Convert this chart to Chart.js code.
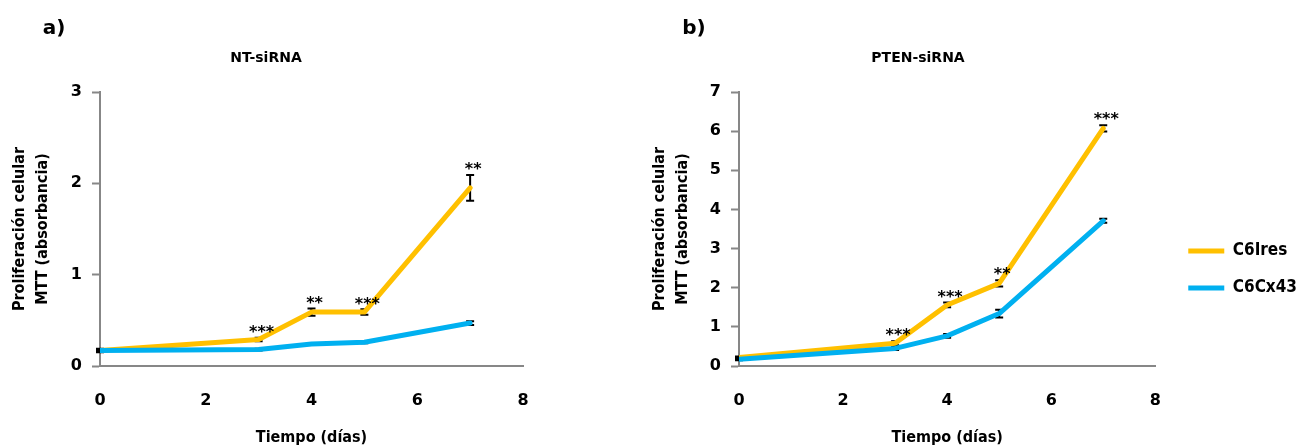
<!DOCTYPE html>
<html>
<head>
<meta charset="utf-8">
<script src="https://cdn.jsdelivr.net/npm/chart.js@4"></script>
<style>
  body { margin: 0; background: #fff; }
  .panel { position: absolute; top: 0; height: 447px; }
  #panelA { left: 0; width: 600px; }
  #panelB { left: 640px; width: 658px; }
</style>
</head>
<body>
<div class="panel" id="panelA"><canvas id="chartA"></canvas></div>
<div class="panel" id="panelB"><canvas id="chartB"></canvas></div>
<script>
// datos
const days = [0, 3, 4, 5, 7];
const seriesNames = ['C6Ires', 'C6Cx43'];

// a) NT-siRNA
const ntIres = [0.17, 0.29, 0.59, 0.59, 1.95];
const ntIresErr = [0.01, 0.02, 0.04, 0.03, 0.14];
const ntCx43 = [0.17, 0.18, 0.24, 0.26, 0.47];
const ntCx43Err = [0.02, 0.01, 0.01, 0.01, 0.02];
const ntSig = ['', '***', '**', '***', '**'];

// b) PTEN-siRNA
const ptIres = [0.22, 0.58, 1.56, 2.11, 6.07];
const ptIresErr = [0.02, 0.05, 0.06, 0.08, 0.08];
const ptCx43 = [0.17, 0.45, 0.77, 1.34, 3.71];
const ptCx43Err = [0.02, 0.04, 0.05, 0.10, 0.05];
const ptSig = ['', '***', '***', '**', '***'];

const xTicks = [0, 2, 4, 6, 8];
const yTicksA = [0, 1, 2, 3];
const yTicksB = [0, 1, 2, 3, 4, 5, 6, 7];

const orange = '#FFC000';
const blue = '#00B0F0';
const axisGray = '#878787';
const tickFont = { family: 'DejaVu Sans', size: 16, weight: 'bold' };
const titleFamily = '"DejaVu Sans Condensed", "DejaVu Sans"';

// barras de error y asteriscos
const errorBars = {
  id: 'errorBars',
  beforeDatasetsDraw(chart, args, opts) {
    const { ctx, scales: { x, y } } = chart;
    ctx.save();
    ctx.strokeStyle = '#000';
    ctx.lineWidth = 2;
    opts.errors.forEach((errs, d) => {
      chart.data.datasets[d].data.forEach((p, i) => {
        const px = x.getPixelForValue(p.x);
        const top = y.getPixelForValue(p.y + errs[i]);
        const bot = y.getPixelForValue(p.y - errs[i]);
        ctx.beginPath();
        ctx.moveTo(px, top); ctx.lineTo(px, bot);
        ctx.moveTo(px - 4, top); ctx.lineTo(px + 4, top);
        ctx.moveTo(px - 4, bot); ctx.lineTo(px + 4, bot);
        ctx.stroke();
      });
    });
    ctx.restore();
  },
  afterDatasetsDraw(chart, args, opts) {
    const { ctx, scales: { x, y } } = chart;
    const base = chart.data.datasets[0].data;
    ctx.save();
    ctx.fillStyle = '#000';
    ctx.font = 'bold 16px "DejaVu Sans"';
    ctx.textAlign = 'center';
    ctx.textBaseline = 'middle';
    opts.stars.forEach((s, i) => {
      if (!s) return;
      const px = x.getPixelForValue(base[i].x);
      const top = y.getPixelForValue(base[i].y + opts.errors[0][i]);
      ctx.fillText(s, px + 3, top - 5);
    });
    ctx.restore();
  }
};

// letra del panel y título
const panelText = {
  id: 'panelText',
  afterDraw(chart, args, opts) {
    const ctx = chart.ctx;
    ctx.save();
    ctx.fillStyle = '#000';
    ctx.textAlign = 'center';
    ctx.textBaseline = 'middle';
    ctx.font = 'bold 20px "DejaVu Sans"';
    ctx.fillText(opts.letter, 54, 29);
    ctx.font = 'bold 14px "DejaVu Sans"';
    ctx.fillText(opts.title, opts.titleX, 58);
    ctx.restore();
  }
};

function series(label, vals, color, order) {
  return {
    label: label,
    data: days.map((d, i) => ({ x: d, y: vals[i] })),
    borderColor: color,
    backgroundColor: color,
    borderWidth: 5,
    borderCapStyle: 'round',
    borderJoinStyle: 'round',
    pointRadius: 0,
    tension: 0,
    order: order
  };
}

function scalesFor(yTicks, yMax, yWidth) {
  return {
    x: {
      type: 'linear', min: 0, max: 8,
      afterBuildTicks: s => { s.ticks = xTicks.map(v => ({ value: v })); },
      afterFit: s => { s.height = 81; },
      grid: { display: false, drawTicks: false },
      border: { display: true, color: axisGray, width: 2 },
      ticks: { font: tickFont, color: '#000', padding: 25 },
      title: {
        display: true, text: 'Tiempo (días)', color: '#000',
        font: { family: titleFamily, size: 16, weight: 'bold', lineHeight: 1.2 },
        padding: { top: 0, bottom: 0 }
      }
    },
    y: {
      type: 'linear', min: 0, max: yMax,
      afterBuildTicks: s => { s.ticks = yTicks.map(v => ({ value: v })); },
      afterFit: s => { s.width = yWidth; },
      grid: { drawOnChartArea: false, drawTicks: true, tickLength: 8, tickColor: axisGray, tickWidth: 2 },
      border: { display: true, color: axisGray, width: 2 },
      ticks: { font: tickFont, color: '#000', padding: 10 },
      title: {
        display: true, text: ['Proliferación celular', 'MTT (absorbancia)'], color: '#000',
        font: { family: titleFamily, size: 16, weight: 'bold', lineHeight: 1.44 },
        padding: { top: 8, bottom: 0 }
      }
    }
  };
}

new Chart(document.getElementById('chartA'), {
  type: 'line',
  data: {
    datasets: [
      series(seriesNames[0], ntIres, orange, 1),
      series(seriesNames[1], ntCx43, blue, 0)
    ]
  },
  options: {
    responsive: true,
    maintainAspectRatio: false,
    animation: false,
    layout: { padding: { top: 92, right: 77, bottom: 0, left: 0 } },
    plugins: {
      legend: { display: false },
      tooltip: { enabled: false },
      errorBars: { errors: [ntIresErr, ntCx43Err], stars: ntSig },
      panelText: { letter: 'a)', title: 'NT-siRNA', titleX: 266 }
    },
    scales: scalesFor(yTicksA, 3, 100)
  },
  plugins: [errorBars, panelText]
});

const scalesB = scalesFor(yTicksB, 7, 99);
// espacio entre el área del gráfico y la leyenda
scalesB.gap = {
  type: 'linear', position: 'right', display: true,
  grid: { display: false, drawTicks: false },
  border: { display: false },
  ticks: { display: false },
  afterFit: s => { s.width = 13; }
};

new Chart(document.getElementById('chartB'), {
  type: 'line',
  data: {
    datasets: [
      series(seriesNames[0], ptIres, orange, 1),
      series(seriesNames[1], ptCx43, blue, 0)
    ]
  },
  options: {
    responsive: true,
    maintainAspectRatio: false,
    animation: false,
    layout: { padding: { top: 92, right: -9, bottom: 0, left: 0 } },
    plugins: {
      legend: {
        position: 'right',
        align: 'center',
        maxWidth: 200,
        labels: {
          usePointStyle: true,
          pointStyle: 'line',
          pointStyleWidth: 36,
          padding: 20,
          color: '#000',
          font: { family: titleFamily, size: 17, weight: 'bold' },
          sort: (a, b) => a.datasetIndex - b.datasetIndex
        }
      },
      tooltip: { enabled: false },
      errorBars: { errors: [ptIresErr, ptCx43Err], stars: ptSig },
      panelText: { letter: 'b)', title: 'PTEN-siRNA', titleX: 278 }
    },
    scales: scalesB
  },
  plugins: [errorBars, panelText]
});
</script>
</body>
</html>
